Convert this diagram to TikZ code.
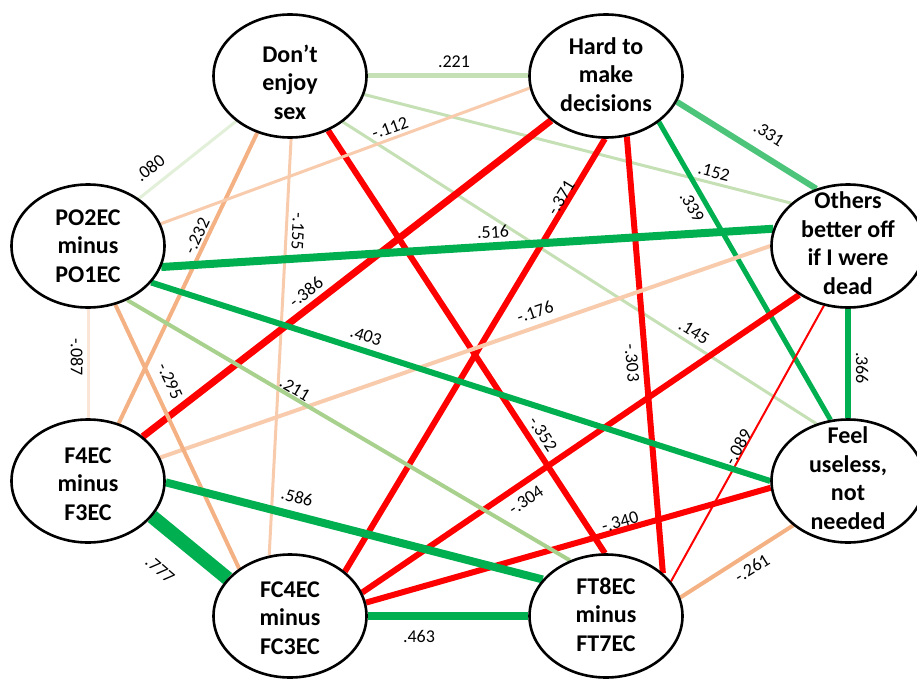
\documentclass[tikz,border=0pt]{standalone}
\usepackage{fontspec}
\setmainfont{Carlito}
\usetikzlibrary{shapes.geometric}
\pgfdeclarelayer{bg}
\pgfsetlayers{bg,main}
\definecolor{gS}{HTML}{00B050}
\definecolor{gM}{HTML}{4CC47A}
\definecolor{gL}{HTML}{A9D18E}
\definecolor{gXL}{HTML}{C5E0B4}
\definecolor{gXXL}{HTML}{E2F0D9}
\definecolor{rS}{HTML}{FF0000}
\definecolor{oM}{HTML}{F4B183}
\definecolor{oL}{HTML}{F8CBAD}
\definecolor{oXL}{HTML}{FBE5D6}
\newcommand\nodetxt[2][0pt]{\smash{\makebox[0pt]{\raisebox{\dimexpr-0.5\height+0.5\depth-#1\relax}{\begin{tabular}{@{}c@{}}#2\end{tabular}}}}}
\begin{document}
\begin{tikzpicture}[x=1pt,y=-1pt,
  ell/.style={ellipse,draw=black,line width=2.6pt,fill=white,minimum width=153pt,minimum height=123pt,inner sep=0pt,
    font=\fontsize{24}{28.5}\selectfont\bfseries},
  lbl/.style={inner sep=0pt,font=\fontsize{18}{20}\selectfont},
  conn/.style={line width=#1pt}]
\useasboundingbox (0,0) rectangle (917,679);

\node[ell] (sex) at (290,76) {\nodetxt[9pt]{Don’t\\enjoy\\sex}};
\node[ell] (hard) at (606,76) {\nodetxt[1pt]{Hard to\\make\\decisions}};
\node[ell] (others) at (848,246) {\nodetxt{Others\\better off\\if I were\\dead}};
\node[ell] (feel) at (848,481) {\nodetxt{Feel\\useless,\\not\\needed}};
\node[ell] (ft8) at (606,616) {\nodetxt[1pt]{FT8EC\\minus\\FT7EC}};
\node[ell] (fc4) at (290,616) {\nodetxt[4pt]{FC4EC\\minus\\FC3EC}};
\node[ell] (f4) at (88,481) {\nodetxt[5pt]{F4EC\\minus\\F3EC}};
\node[ell] (po2) at (88,246) {\nodetxt[2pt]{PO2EC\\minus\\PO1EC}};

\begin{pgfonlayer}{bg}
% Don't enjoy sex
\draw[gXL,conn=5] (sex.0) -- (hard.180);
\draw[gXL,conn=3] (sex.-14) -- (others.143);
\draw[gXL,conn=3] (sex.-41.5) -- (feel.119);
\draw[gXXL,conn=3] (sex.220) -- (po2.43);
\draw[oM,conn=4] (sex.240) -- (f4.62);
\draw[oL,conn=3] (sex.271) -- (fc4.109.5);
\draw[rS,conn=6] (sex.305.5) -- (ft8.91);
% Hard to make decisions
\draw[oL,conn=3] (hard.189.6) -- (po2.17.7);
\draw[gM,conn=6] (hard.340.4) -- (others.119);
\draw[gS,conn=5] (hard.319) -- (feel.106);
\draw[rS,conn=7] (hard.219.4) -- (f4.39.3);
\draw[rS,conn=6] (hard.269.1) -- (fc4.39.7);
\draw[rS,conn=6] (hard.289.8) -- (ft8.37.2);
% Others better off
\draw[gS,conn=8] (others.167.4) -- (po2.344.4);
\draw[gS,conn=6] (others.south) -- (feel.north);
\draw[oL,conn=4] (others.180.7) -- (f4.18.7);
\draw[rS,conn=6] (others.225.6) -- (fc4.18.4);
\draw[rS,conn=2] (others.248.8) -- (ft8.28.7);
% Feel useless
\draw[gS,conn=6] (feel.180) -- (po2.330.4);
\draw[rS,conn=6] (feel.185.9) -- (fc4.10.3);
\draw[oM,conn=4] (feel.219.4) -- (ft8.14.4);
% PO2EC
\draw[oXL,conn=3] (po2.south) -- (f4.north);
\draw[gL,conn=4] (po2.306.9) -- (ft8.123.2);
\draw[oM,conn=4] (po2.295.8) -- (fc4.137.9);
% F4EC
\draw[gS,conn=14] (f4.331.2) -- (fc4.149.6);
\draw[gS,conn=8] (f4.359.3) -- (ft8.150.7);
% FC4EC
\draw[gS,conn=8] (fc4.0) -- (ft8.180);
\end{pgfonlayer}

\node[lbl] (l221) at (454,62) {.221};
\node[lbl,rotate=38] (l080) at (150,168) {.080};
\node[lbl,rotate=20] (l112) at (390,128) {-.112};
\node[lbl,rotate=64.6] (l232) at (197,236) {-.232};
\node[lbl,rotate=-93] (l155) at (298,231) {-.155};
\node[lbl,rotate=-57] (l352) at (543,434) {-.352};
\node[lbl,rotate=-14] (l152) at (714,172) {.152};
\node[lbl,rotate=-32] (l145) at (694,332) {.145};
\node[lbl,rotate=-32.5] (l331) at (769,134) {.331};
\node[lbl,rotate=-60] (l339) at (692,207) {.339};
\node[lbl,rotate=37.7] (l386) at (306,292) {-.386};
\node[lbl,rotate=58.8] (l371) at (561,198) {-.371};
\node[lbl,rotate=-85.4] (l303) at (632,363) {-.303};
\node[lbl,rotate=3.6] (l516) at (493,232) {.516};
\node[lbl,rotate=-90] (l366) at (862,368) {.366};
\node[lbl,rotate=19] (l176) at (535,312) {-.176};
\node[lbl,rotate=34] (l304) at (526,500) {-.304};
\node[lbl,rotate=60.6] (l089) at (738,447) {-.089};
\node[lbl,rotate=-17.8] (l403) at (366,336) {.403};
\node[lbl,rotate=15.7] (l340) at (620,522) {-.340};
\node[lbl,rotate=32] (l261) at (752,568) {-.261};
\node[lbl,rotate=-90] (l087) at (77,357) {-.087};
\node[lbl,rotate=-30.5] (l211) at (295,389) {.211};
\node[lbl,rotate=-65.3] (l295) at (170,381) {-.295};
\node[lbl,rotate=-40.6] (l777) at (160,570) {.777};
\node[lbl,rotate=-14.6] (l586) at (297,497) {.586};
\node[lbl] (l463) at (419,636) {.463};
\end{tikzpicture}
\end{document}
